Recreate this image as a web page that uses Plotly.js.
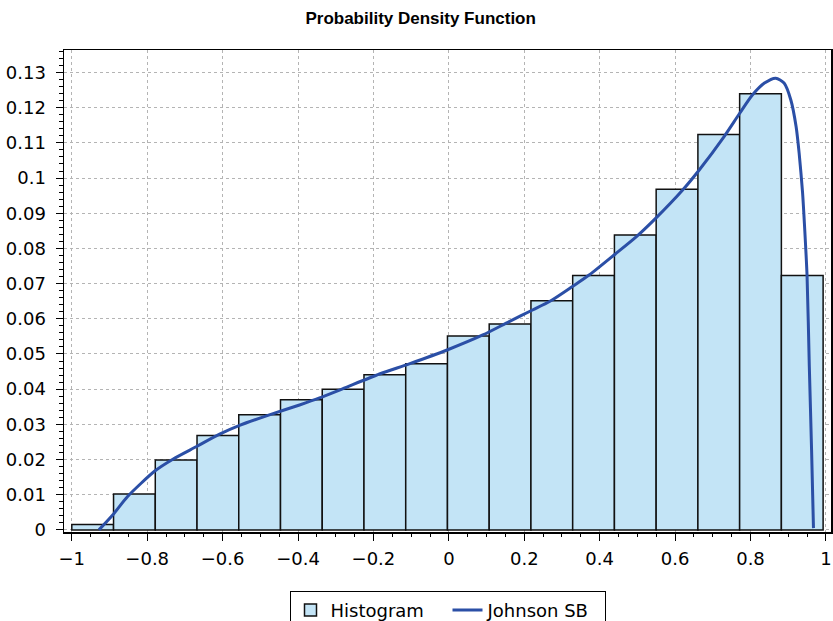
<!DOCTYPE html>
<html>
<head>
<meta charset="utf-8">
<script src="https://cdn.plot.ly/plotly-3.0.1.min.js"></script>
<style>
  html, body { margin: 0; padding: 0; background: #ffffff; }
  #chart { width: 833px; height: 621px; }
</style>
</head>
<body>
<div id="chart"></div>
<script>
// Histogram: 18 equal-width bins starting at -1
const binStart = -1;
const binWidth = 0.1107;
const histDensity = [
  0.0015, 0.0102, 0.0199, 0.0268, 0.0327, 0.0370,
  0.0400, 0.0441, 0.0472, 0.0551, 0.0585, 0.0651,
  0.0723, 0.0838, 0.0968, 0.1124, 0.1240, 0.0723
];

// Fitted Johnson SB density curve
const curveX = [
  -0.928, -0.891, -0.852, -0.779, -0.732, -0.669, -0.608, -0.555,
  -0.476, -0.396, -0.343, -0.282, -0.184, -0.105, -0.003, 0.090,
  0.160, 0.222, 0.267, 0.328, 0.373, 0.439, 0.496, 0.549,
  0.620, 0.664, 0.730, 0.770, 0.805, 0.837, 0.867, 0.889,
  0.907, 0.921, 0.929, 0.938, 0.943, 0.950, 0.956, 0.962, 0.967
];
const curveY = [
  0.0000, 0.0043, 0.0095, 0.0168, 0.0201, 0.0237, 0.0272, 0.0297,
  0.0327, 0.0355, 0.0375, 0.0401, 0.0443, 0.0472, 0.0512, 0.0554,
  0.0592, 0.0625, 0.0649, 0.0692, 0.0725, 0.0782, 0.0832, 0.0886,
  0.0966, 0.1023, 0.1118, 0.1182, 0.1236, 0.1270, 0.1284, 0.1270,
  0.1222, 0.1146, 0.1071, 0.0960, 0.0870, 0.0722, 0.0464, 0.0227, 0.0005
];

const binCenters = histDensity.map((_, i) => binStart + binWidth * (i + 0.5));

const histTrace = {
  type: 'bar',
  name: 'Histogram',
  x: binCenters,
  y: histDensity,
  width: binWidth,
  marker: { color: '#c3e4f6', line: { color: '#111111', width: 1.5 } },
  hoverinfo: 'x+y'
};

const curveTrace = {
  type: 'scatter',
  mode: 'lines',
  name: 'Johnson SB',
  x: curveX,
  y: curveY,
  line: { color: '#2b4fa6', width: 3, shape: 'spline', smoothing: 0.7 }
};

const tickFont = { family: 'DejaVu Sans, Liberation Sans, sans-serif', size: 18, color: '#000000' };

const layout = {
  width: 833,
  height: 621,
  margin: { l: 64, r: 2, t: 50, b: 89, pad: 0, autoexpand: false },
  paper_bgcolor: '#ffffff',
  plot_bgcolor: '#ffffff',
  font: tickFont,
  showlegend: true,
  bargap: 0,
  title: {
    text: '<b>Probability Density Function</b>',
    font: { family: 'Liberation Sans, Arial, sans-serif', size: 17, color: '#000000' },
    x: 0.505, xref: 'container', xanchor: 'center',
    y: 0.971, yref: 'container', yanchor: 'middle'
  },
  xaxis: {
    range: [-1.0207, 1.0135],
    tick0: -1, dtick: 0.2,
    ticks: 'outside', ticklen: 7, tickwidth: 1, tickcolor: '#000000',
    ticklabelstandoff: 3,
    showline: true, linecolor: '#000000', linewidth: 1.5, mirror: true,
    showgrid: true, gridcolor: '#b4b4b4', griddash: 'dot', gridwidth: 1,
    zeroline: false,
    tickfont: tickFont,
    minor: { dtick: 0.05, ticks: 'outside', ticklen: 3.5, tickcolor: '#000000', showgrid: false }
  },
  yaxis: {
    range: [-0.0006, 0.1364],
    tick0: 0, dtick: 0.01,
    ticks: 'outside', ticklen: 7, tickwidth: 1, tickcolor: '#000000',
    ticklabelstandoff: 6,
    showline: true, linecolor: '#000000', linewidth: 1.5, mirror: true,
    showgrid: true, gridcolor: '#b4b4b4', griddash: 'dot', gridwidth: 1,
    zeroline: false,
    tickfont: tickFont,
    minor: { dtick: 0.002, ticks: 'outside', ticklen: 3.5, tickcolor: '#000000', showgrid: false }
  },
  legend: {
    orientation: 'h',
    x: 0.5, xanchor: 'center', xref: 'paper',
    y: -0.122, yanchor: 'top',
    bordercolor: '#000000', borderwidth: 1,
    bgcolor: '#ffffff',
    font: tickFont,
    entrywidth: 112, entrywidthmode: 'pixels',
    traceorder: 'normal'
  }
};

Plotly.newPlot('chart', [histTrace, curveTrace], layout, { displayModeBar: false, staticPlot: true });
</script>
</body>
</html>
